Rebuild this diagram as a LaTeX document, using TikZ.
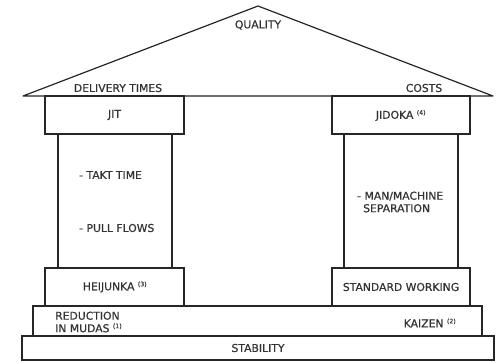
\documentclass[tikz,border=0pt]{standalone}
\usepackage{fontspec}
\setmainfont[FakeBold=0.6]{DejaVu Sans}
\begin{document}
\begin{tikzpicture}[x=1pt,y=-1pt,
  part/.style={draw=black!85,line width=1.2pt,fill=white},
  lbl/.style={font=\fontsize{10.8}{12.5}\selectfont,text=black!80,inner sep=0pt}]
\newcommand{\nsup}[1]{\textsuperscript{\fontsize{6.2}{7}\selectfont(#1)}}
\useasboundingbox (0,0) rectangle (502,361);
% roof
\draw[part,line join=round] (23,96) -- (258,6) -- (493,96) -- cycle;
\node[lbl] (quality) at (258,25) {QUALITY};
\node[lbl] (delivery) at (118,88) {DELIVERY TIMES};
\node[lbl] (costs) at (424,88) {COSTS};
% left pillar
\draw[part] (58,134) rectangle (172,268);
\draw[part] (45,96) rectangle (184,134);
\draw[part] (45,268) rectangle (184,306);
\node[lbl] (jit) at (114.5,115) {JIT};
\node[lbl,anchor=west] (takt) at (79,175) {- TAKT TIME};
\node[lbl,anchor=west] (pull) at (79,228) {- PULL FLOWS};
\node[lbl] (heijunka) at (115,287) {HEIJUNKA \nsup{3}};
% right pillar
\draw[part] (344,134) rectangle (458,268);
\draw[part] (332,96) rectangle (470,134);
\draw[part] (332,268) rectangle (470,306);
\node[lbl] (jidoka) at (401,115.5) {JIDOKA \nsup{4}};
\node[lbl,anchor=west,align=left] (man) at (357,202) {- MAN/MACHINE\\\hspace*{6pt}SEPARATION};
\node[lbl] (std) at (401,287) {STANDARD WORKING};
% bands
\draw[part] (33,306) rectangle (482,336);
\draw[part] (22,336) rectangle (494,360);
\node[lbl,anchor=west,align=left] (red) at (55,322) {REDUCTION\\IN MUDAS \nsup{1}};
\node[lbl] (kaizen) at (430,323) {KAIZEN \nsup{2}};
\node[lbl] (stab) at (258,348) {STABILITY};
\end{tikzpicture}
\end{document}
